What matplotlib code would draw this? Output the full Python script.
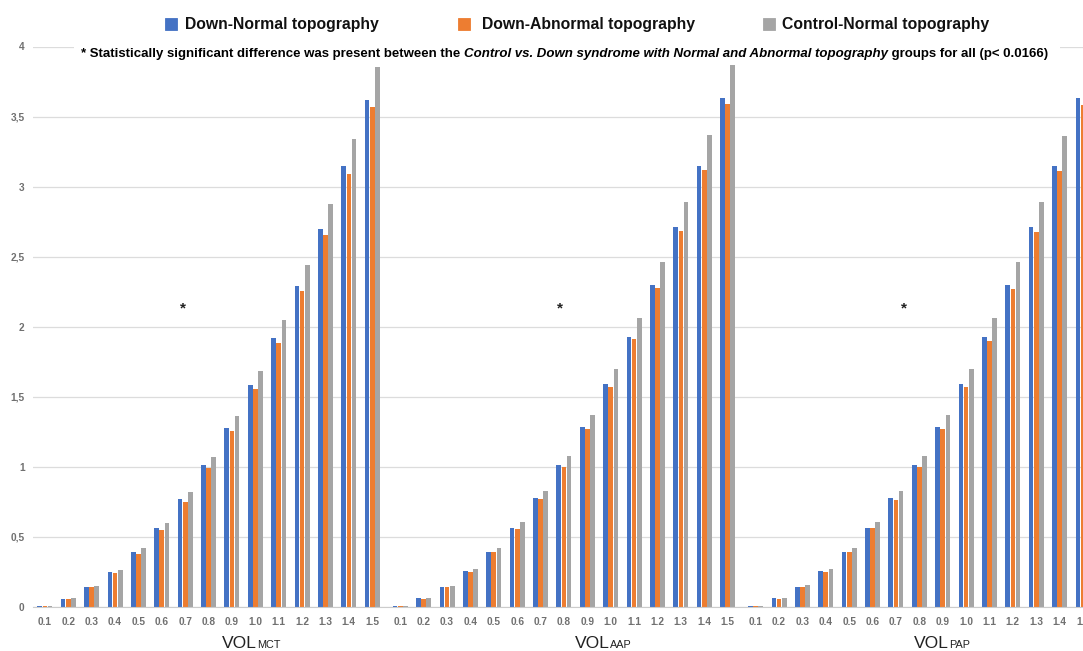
import numpy as np
import matplotlib
matplotlib.use('Agg')
import matplotlib.pyplot as plt
from matplotlib.patches import Rectangle

plt.rcParams['font.family'] = ['Liberation Sans', 'DejaVu Sans']

thresholds = ['0.1', '0.2', '0.3', '0.4', '0.5', '0.6', '0.7', '0.8',
              '0.9', '1.0', '1.1', '1.2', '1.3', '1.4', '1.5']
groups = ['MCT', 'AAP', 'PAP']
series_names = ['Down-Normal topography', 'Down-Abnormal topography',
                'Control-Normal topography']
colors = ['#4472C4', '#ED7D31', '#A5A5A5']

# VOL MCT
mct_down_normal = [0.01, 0.06, 0.14, 0.25, 0.39, 0.565, 0.77, 1.01, 1.28, 1.585, 1.92, 2.29, 2.70, 3.15, 3.62]
mct_down_abnormal = [0.01, 0.06, 0.14, 0.24, 0.38, 0.55, 0.75, 0.99, 1.255, 1.555, 1.885, 2.255, 2.655, 3.09, 3.565]
mct_control = [0.01, 0.065, 0.15, 0.265, 0.42, 0.60, 0.82, 1.07, 1.36, 1.685, 2.045, 2.44, 2.875, 3.34, 3.855]
# VOL AAP
aap_down_normal = [0.01, 0.065, 0.14, 0.255, 0.39, 0.565, 0.775, 1.015, 1.285, 1.59, 1.93, 2.30, 2.71, 3.15, 3.63]
aap_down_abnormal = [0.01, 0.06, 0.14, 0.25, 0.39, 0.56, 0.77, 1.00, 1.27, 1.57, 1.91, 2.28, 2.68, 3.12, 3.59]
aap_control = [0.01, 0.065, 0.15, 0.27, 0.42, 0.61, 0.83, 1.08, 1.37, 1.70, 2.06, 2.46, 2.89, 3.37, 3.87]
# VOL PAP
pap_down_normal = [0.01, 0.065, 0.14, 0.255, 0.39, 0.565, 0.775, 1.015, 1.285, 1.59, 1.93, 2.30, 2.71, 3.15, 3.63]
pap_down_abnormal = [0.01, 0.06, 0.14, 0.25, 0.39, 0.565, 0.765, 1.00, 1.27, 1.57, 1.90, 2.27, 2.675, 3.11, 3.58]
pap_control = [0.01, 0.065, 0.155, 0.27, 0.42, 0.61, 0.83, 1.08, 1.37, 1.70, 2.06, 2.46, 2.89, 3.36, 3.87]

data = [
    [mct_down_normal, mct_down_abnormal, mct_control],
    [aap_down_normal, aap_down_abnormal, aap_control],
    [pap_down_normal, pap_down_abnormal, pap_control],
]

star_x = [5.9, 6.85, 6.35]   # asterisk position inside each group (category units)
star_y = 2.13

W, H = 1083, 651
fig = plt.figure(figsize=(W / 100, H / 100), dpi=100)
ax = fig.add_axes([33 / W, 44 / H, 1 - 33 / W, (607 - 46.5) / H])

group_step = 15.2
offsets = [-0.22, 0.0, 0.22]
width = 0.2
ticks, ticklabels = [], []
for g in range(3):
    x = np.arange(len(thresholds)) + g * group_step
    for s in range(3):
        ax.bar(x + offsets[s], data[g][s], width, color=colors[s], zorder=2)
    ticks.extend(x)
    ticklabels.extend(thresholds)
    ax.text(g * group_step + star_x[g], star_y, '*', ha='center', va='center',
            fontsize=11, fontweight='bold', color='#222222')

ax.set_xlim(-0.51, 2 * group_step + 14 - 0.04)
ax.set_ylim(0, 4)
yt = np.arange(0, 4.01, 0.5)
ax.set_yticks(yt)
ax.set_yticklabels([('%g' % v).replace('.', ',') for v in yt])
ax.set_xticks(ticks)
ax.set_xticklabels(ticklabels)
ax.tick_params(axis='both', length=0, labelsize=7.3, labelcolor='#707070')
ax.tick_params(axis='x', pad=7)
ax.tick_params(axis='y', pad=6)
for lab in ax.get_xticklabels() + ax.get_yticklabels():
    lab.set_fontweight('bold')
ax.grid(axis='y', color='#dcdcdc', linewidth=0.9, zorder=0)
ax.set_axisbelow(True)
for sp in ['top', 'right', 'left']:
    ax.spines[sp].set_visible(False)
ax.spines['bottom'].set_color('#cccccc')

# legend, placed by hand
box_left = [165, 458, 763]
text_left = [185, 482, 782]
for i in range(3):
    fig.patches.append(Rectangle((box_left[i] / W, 1 - 30 / H), 12 / W, 12 / H,
                                 transform=fig.transFigure, facecolor=colors[i],
                                 edgecolor=colors[i], linewidth=0.6, zorder=2))
    fig.text(text_left[i] / W, 1 - 24 / H, series_names[i], ha='left', va='center',
             fontsize=11.3, fontweight='bold', color='#111111')

# note line with white background
fig.patches.append(Rectangle((74 / W, 1 - 62 / H), (1060 - 74) / W, 17 / H,
                             transform=fig.transFigure, facecolor='white',
                             edgecolor='none', zorder=1))
note_size = 9.5
note_y = 1 - 54 / H
t1 = fig.text(81 / W, note_y,
              '* Statistically significant difference was present between the ',
              ha='left', va='center', fontsize=note_size, fontweight='bold', zorder=3)
t2 = fig.text(0, note_y, 'Control vs. Down syndrome with Normal and Abnormal topography',
              ha='left', va='center', fontsize=note_size, fontweight='bold',
              style='italic', zorder=3)
fig.canvas.draw()
r = fig.canvas.get_renderer()
t2.set_x(t1.get_window_extent(r).x1 / W)
fig.text(t2.get_window_extent(r).x1 / W, note_y, ' groups for all (p< 0.0166)',
         ha='left', va='center', fontsize=note_size, fontweight='bold', zorder=3)

# group titles: VOL + smaller label
title_split = [257, 610, 949]
for g in range(3):
    fig.text(title_split[g] / W, 3 / H, 'VOL', ha='right', va='baseline',
             fontsize=12.6, color='#222222')
    fig.text(title_split[g] / W, 3 / H, groups[g], ha='left', va='baseline',
             fontsize=7.8, color='#222222')

fig.savefig('out.png', dpi=100)
